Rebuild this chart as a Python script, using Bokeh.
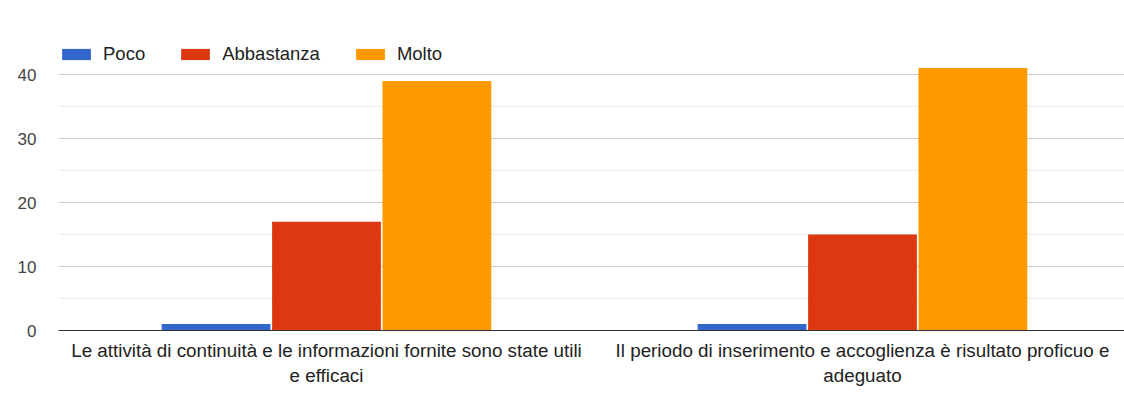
from bokeh.plotting import figure
from bokeh.models import Range1d, FixedTicker, ColumnDataSource, Legend, LegendItem
from bokeh.transform import dodge
from bokeh.embed import file_html
from bokeh.resources import INLINE

categories = ["Le attività di continuità e le informazioni fornite sono state utili\ne efficaci",
              "Il periodo di inserimento e accoglienza è risultato proficuo e\nadeguato"]
poco = [1, 1]
abbastanza = [17, 15]
molto = [39, 41]
series = ["Poco", "Abbastanza", "Molto"]
colors = ["#3366cc", "#dc3912", "#ff9900"]

xpos = [0.5, 1.5]
src = ColumnDataSource(dict(x=xpos, Poco=poco, Abbastanza=abbastanza, Molto=molto))

FONT = "Liberation Sans"

p = figure(width=1124, height=394, output_backend="svg", toolbar_location=None,
           x_range=Range1d(0, 1066 / 536), y_range=Range1d(0, 45),
           min_border_left=58, min_border_right=0, min_border_top=42, min_border_bottom=64)
p.outline_line_color = None
p.background_fill_color = "white"
p.border_fill_color = "white"

offsets = [-0.206, 0.0, 0.206]
items = []
for s, c, o in zip(series, colors, offsets):
    r = p.vbar(x=dodge("x", o), top=s, width=0.203, source=src, fill_color=c, line_color=None)
    items.append(LegendItem(label=s, renderers=[r]))

legend = Legend(items=items, orientation="horizontal", location=(0, 265),
                margin=0, padding=0, spacing=32, glyph_width=36, glyph_height=14,
                label_standoff=9, label_text_font=FONT, label_text_font_size="18.5px",
                label_text_color="#222222", background_fill_alpha=0, border_line_color=None)
p.add_layout(legend, "center")

# axes
p.xaxis.ticker = FixedTicker(ticks=xpos)
p.xaxis.major_label_overrides = {x: c for x, c in zip(xpos, categories)}
p.xaxis.axis_line_color = "#333333"
p.xaxis.major_tick_line_color = None
p.xaxis.minor_tick_line_color = None
p.xaxis.major_label_text_font = FONT
p.xaxis.major_label_text_font_size = "18.8px"
p.xaxis.major_label_text_color = "#222222"
p.xaxis.major_label_standoff = 3

p.yaxis.ticker = FixedTicker(ticks=[0, 10, 20, 30, 40], minor_ticks=[5, 15, 25, 35, 45])
p.yaxis.axis_line_color = None
p.yaxis.major_tick_line_color = None
p.yaxis.minor_tick_line_color = None
p.yaxis.major_label_text_font = FONT
p.yaxis.major_label_text_font_size = "17px"
p.yaxis.major_label_text_color = "#444444"
p.yaxis.major_label_standoff = 16

p.xgrid.grid_line_color = None
p.ygrid.grid_line_color = "#cccccc"
p.ygrid.minor_grid_line_color = "#ebebeb"

open("out.html", "w").write(file_html(p, INLINE))
